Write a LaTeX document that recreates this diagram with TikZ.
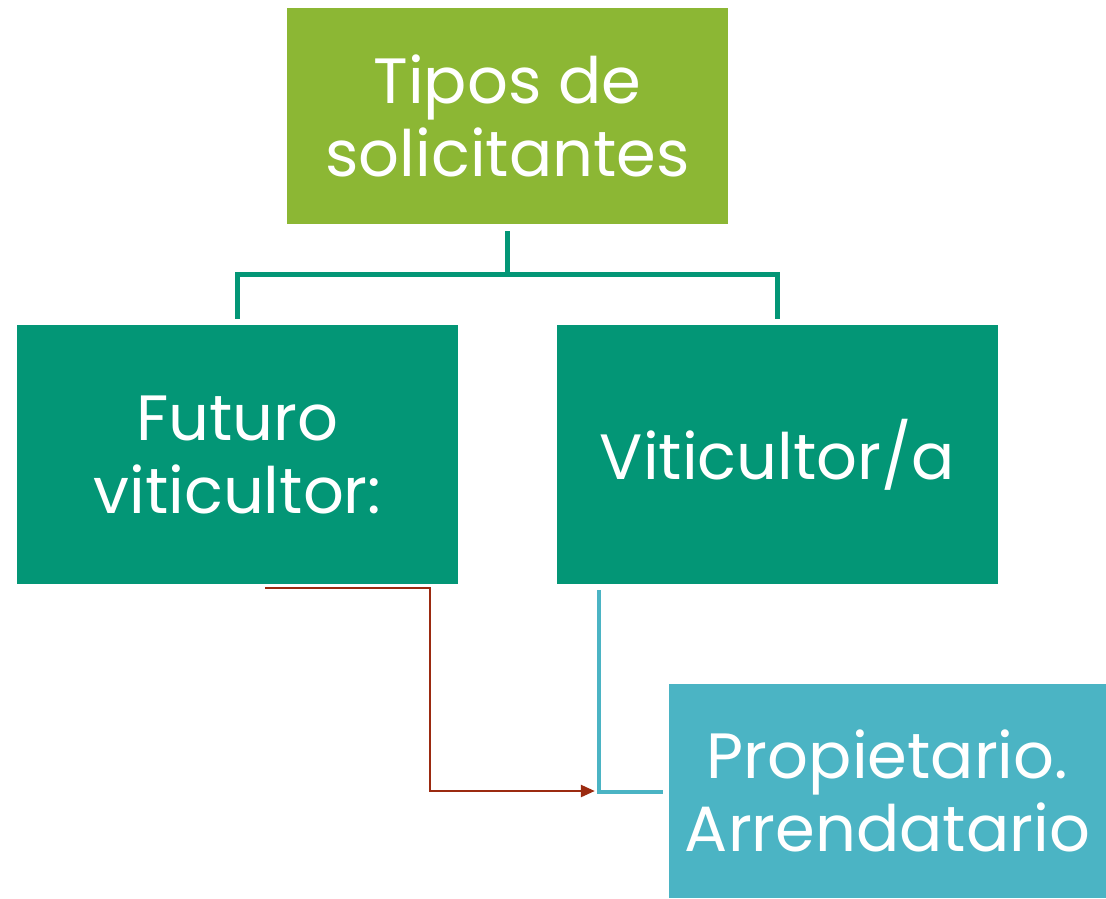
\documentclass[tikz,border=0pt]{standalone}
\usepackage{fontspec}
\setmainfont{Poppins}
\usetikzlibrary{calc,arrows.meta}
\definecolor{cgreen}{HTML}{8CB734}
\definecolor{cteal}{HTML}{039676}
\definecolor{ccyan}{HTML}{4BB4C4}
\definecolor{cred}{HTML}{9B2A10}
\tikzset{
  box/.style={rectangle, inner sep=0pt, text=white, align=center,
    font=\fontsize{64}{73}\selectfont},
  conn/.style={draw=cteal, line width=5pt},
}
\begin{document}
\begin{tikzpicture}[x=1pt,y=-1pt]
\useasboundingbox (0,0) rectangle (1106,898);
\node[box, fill=cgreen, minimum width=441pt, minimum height=216pt] (top) at (507.5,116) {Tipos de\\solicitantes};
\node[box, fill=cteal, minimum width=441pt, minimum height=259pt] (left) at (237.5,454.5) {Futuro\\viticultor:};
\node[box, fill=cteal, minimum width=441pt, minimum height=259pt] (right) at (777.5,454.5) {Viticultor/a};
\node[box, fill=ccyan, minimum width=437pt, minimum height=214pt] (bottom) at (887.5,791) {Propietario.\\Arrendatario};
\draw[conn] ([yshift=-7pt]top.south) -- ++(0,43) coordinate (j);
\draw[conn] ([yshift=6pt]left.north) |- (j) -| ([yshift=6pt]right.north);
\draw[draw=cred, line width=2.5pt, -{Triangle[length=14pt,width=12pt]}]
  ([xshift=27.5pt,yshift=-4pt]left.south) -| ++(165,100) |- ([xshift=-74pt]bottom.west);
\draw[draw=ccyan, line width=4pt] ([xshift=-178.5pt,yshift=-6pt]right.south) |- ([xshift=-6pt,yshift=-1pt]bottom.west);
\end{tikzpicture}
\end{document}
